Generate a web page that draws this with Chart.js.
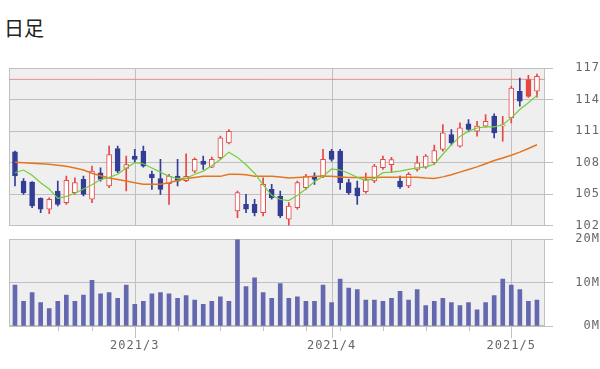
<!DOCTYPE html>
<html lang="ja">
<head>
<meta charset="utf-8">
<title>日足</title>
<script src="https://cdn.jsdelivr.net/npm/chart.js@4.4.1/dist/chart.umd.min.js"></script>
<style>
  html, body { margin: 0; padding: 0; background: #fff; }
  #wrap { position: relative; width: 600px; height: 369px; overflow: hidden; }
  h1 { position: absolute; left: 4px; top: 13px; margin: 0; font: normal 20px "Noto Sans CJK JP", sans-serif; color: #222; }
  #price { position: absolute; left: 0; top: 0; }
  #volume { position: absolute; left: 0; top: 225px; }
</style>
</head>
<body>
<div id="wrap">
  <h1>日足</h1>
  <canvas id="price" width="600" height="240"></canvas>
  <canvas id="volume" width="600" height="144"></canvas>
</div>
<script>
// daily candles, 2021/2/5 .. 2021/5/11
const open = [109.04, 106.25, 106.16, 104.61, 103.57, 105.31, 104.2, 105.15, 106.41, 104.52,
  107.04, 105.78, 109.35, 107.45, 108.62, 109.1, 106.89, 106.5, 106.0, 106.73,
  106.3, 107.2, 108.15, 107.58, 108.47, 109.89, 103.41, 104.04, 104.04, 103.25,
  105.46, 104.83, 102.62, 103.73, 105.62, 106.73, 106.73, 109.1, 109.1, 106.1,
  105.62, 105.25, 106.26, 107.52, 107.8, 106.26, 105.78, 107.36, 107.58, 108.0,
  109.26, 110.68, 109.57, 111.69, 110.99, 111.47, 112.42, 111.5, 112.26, 114.79,
  115.9, 114.79];
const high = [109.1, 106.5, 106.2, 104.67, 104.67, 106.25, 106.73, 106.57, 106.73, 107.68,
  107.52, 109.57, 109.57, 108.62, 109.26, 109.57, 107.2, 108.31, 106.89, 108.31,
  108.85, 108.47, 108.62, 108.53, 110.52, 111.15, 105.31, 104.99, 104.52, 106.57,
  105.94, 105.31, 104.2, 106.25, 106.89, 107.04, 109.26, 109.26, 109.26, 106.41,
  106.25, 107.0, 107.84, 108.63, 108.5, 106.73, 107.05, 108.63, 108.78, 109.67,
  111.63, 111.15, 111.79, 112.1, 111.94, 112.58, 112.64, 112.4, 115.26, 116.05,
  116.3, 116.43];
const low = [105.78, 104.99, 103.73, 103.25, 103.16, 103.88, 104.04, 104.99, 104.83, 104.2,
  106.25, 105.62, 107.04, 105.31, 107.99, 107.58, 105.46, 104.99, 104.04, 105.78,
  106.2, 107.04, 107.36, 107.52, 108.31, 109.79, 102.78, 103.25, 102.94, 102.94,
  104.52, 102.78, 102.05, 103.57, 105.46, 105.94, 106.57, 108.15, 105.46, 104.99,
  104.04, 105.1, 106.1, 107.36, 107.05, 105.56, 105.62, 107.2, 107.46, 107.84,
  109.1, 109.67, 109.48, 110.93, 110.52, 111.38, 110.36, 110.05, 111.79, 113.37,
  114.2, 114.22];
const close = [106.73, 105.15, 103.88, 103.57, 104.52, 104.04, 106.32, 106.1, 104.99, 107.2,
  106.41, 108.78, 107.2, 107.83, 108.31, 107.68, 106.57, 105.46, 106.73, 106.25,
  106.7, 108.31, 107.83, 108.31, 110.36, 110.99, 105.15, 103.57, 103.25, 105.94,
  104.67, 102.94, 103.88, 106.1, 106.73, 106.41, 108.31, 108.31, 106.1, 105.15,
  104.83, 106.4, 107.68, 108.31, 108.3, 105.69, 106.89, 107.99, 108.63, 109.16,
  110.84, 109.89, 111.31, 111.15, 111.47, 111.94, 110.84, 111.6, 115.1, 113.84,
  114.3, 116.21];

// moving averages as drawn on the chart
const maShort = [107.04, 107.3, 106.8, 106.1, 105.5, 104.6, 104.8, 105.1, 105.5, 105.9,
  106.4, 106.6, 106.9, 107.5, 108.0, 107.9, 107.5, 107.1, 106.7, 106.5,
  106.5, 106.9, 107.2, 107.7, 108.3, 109.0, 108.5, 107.8, 107.0, 105.9,
  104.9, 104.5, 104.4, 104.9, 105.5, 106.2, 106.7, 107.4, 107.3, 107.0,
  106.6, 106.3, 106.5, 107.05, 107.1, 107.2, 107.36, 107.5, 107.6, 107.85,
  108.8, 109.7, 110.5, 111.0, 111.3, 111.4, 111.4, 111.6, 112.26, 113.05,
  113.7, 114.4];
const maLong = [108.05, 108.0, 107.95, 107.9, 107.85, 107.75, 107.65, 107.5, 107.3, 107.0,
  106.75, 106.55, 106.4, 106.25, 106.1, 105.95, 105.95, 105.95, 106.1, 106.3,
  106.5, 106.6, 106.7, 106.7, 106.7, 106.9, 106.9, 106.85, 106.7, 106.7,
  106.7, 106.65, 106.55, 106.6, 106.65, 106.7, 106.7, 106.7, 106.65, 106.6,
  106.6, 106.6, 106.6, 106.62, 106.62, 106.62, 106.62, 106.62, 106.55, 106.5,
  106.65, 106.85, 107.1, 107.35, 107.6, 107.9, 108.2, 108.45, 108.7, 109.0,
  109.35, 109.7];
const highLine = 115.92;

// volume, millions of shares
const volume = [9.45, 5.7, 7.7, 5.4, 4.0, 5.7, 7.1, 5.7, 7.1, 10.5,
  7.4, 7.7, 6.4, 9.45, 5.0, 5.7, 7.4, 7.7, 7.4, 6.4,
  7.0, 6.0, 5.0, 5.7, 6.7, 5.7, 19.9, 9.1, 11.1, 7.7,
  6.4, 9.8, 6.4, 6.7, 5.7, 5.7, 9.45, 5.4, 10.8, 8.75,
  8.4, 6.0, 6.0, 5.7, 6.4, 8.0, 6.0, 8.4, 4.7, 5.7,
  6.4, 5.4, 4.7, 5.4, 3.7, 5.4, 7.0, 10.8, 9.45, 8.4,
  5.7, 6.0];

const monthIdx = [14, 37, 58];
const monthLabels = ["2021/3", "2021/4", "2021/5"];
const weekIdx = [5, 9, 19, 24, 29, 34, 38, 43, 48, 53];
const priceTicks = { min: 102, max: 117, step: 3 };
const volTicks = { min: 0, max: 20, step: 10 };
const redFilledDays = [60];

const X_MIN = -0.7, X_MAX = 61.94;
const RED = "#e64646", BLUE = "#333d96", GRID = "#c0c0c0";
const tickFont = { family: "DejaVu Sans Mono", size: 12 };
const tickColor = "#666";

// grey panel, its border, month lines and week marks, all under the data
function panelPlugin(monthTick, weekTick) {
  return {
    id: "panel",
    beforeDraw(chart) {
      const { ctx, chartArea: a } = chart;
      const sx = chart.scales.x;
      const line = (px, y1, y2) => {
        ctx.beginPath();
        ctx.moveTo(px, y1);
        ctx.lineTo(px, y2);
        ctx.stroke();
      };
      ctx.save();
      ctx.fillStyle = "#efefef";
      ctx.fillRect(a.left, a.top, a.right - a.left, a.bottom - a.top);
      ctx.strokeStyle = GRID;
      ctx.lineWidth = 1;
      ctx.strokeRect(Math.round(a.left) + 0.5, Math.round(a.top) + 0.5,
        Math.round(a.right - a.left) - 1, Math.round(a.bottom - a.top) - 1);
      monthIdx.forEach((i) => {
        line(Math.round(sx.getPixelForValue(i)) + 0.5, a.top, a.bottom + monthTick);
      });
      if (weekTick) {
        weekIdx.forEach((i) => {
          line(Math.round(sx.getPixelForValue(i)) + 0.5, a.bottom, a.bottom + weekTick);
        });
      }
      ctx.restore();
      ctx.letterSpacing = "1px";
    },
    afterDraw(chart) {
      chart.ctx.letterSpacing = "0px";
    }
  };
}

function xAxis(showLabels) {
  return {
    type: "linear",
    min: X_MIN,
    max: X_MAX,
    offset: false,
    afterBuildTicks: (s) => { s.ticks = monthIdx.map((v) => ({ value: v })); },
    afterFit: (s) => { s.height = showLabels ? 43 : 0; },
    grid: { display: false, drawTicks: showLabels, tickLength: 12 },
    border: { display: false },
    ticks: {
      display: showLabels,
      autoSkip: false,
      maxRotation: 0,
      padding: 1,
      font: tickFont,
      color: tickColor,
      callback: (v, i) => monthLabels[i]
    }
  };
}

function yAxis(t, fmt) {
  return {
    position: "right",
    min: t.min,
    max: t.max,
    afterFit: (s) => { s.width = 55; },
    grid: { color: GRID, tickLength: 8 },
    border: { display: false },
    ticks: { stepSize: t.step, padding: 7, crossAlign: "far", font: tickFont, color: tickColor, callback: fmt }
  };
}

// put a chart's plot area at the wanted page rows
function place(chart, top, bottom) {
  const canvas = chart.canvas;
  let a = chart.chartArea;
  const h = Math.round(canvas.height + (bottom - top) - (a.bottom - a.top));
  if (h !== canvas.height) {
    chart.resize(600, h);
    a = chart.chartArea;
  }
  canvas.style.top = (top - a.top) + "px";
}

const isUp = (i) => close[i] >= open[i];
const candleColor = (i) => (isUp(i) || redFilledDays.includes(i) ? RED : BLUE);
const days = close.map((c, i) => i);

const priceChart = new Chart(document.getElementById("price"), {
  type: "bar",
  data: {
    datasets: [
      {
        type: "line",
        data: [{ x: X_MIN, y: highLine }, { x: X_MAX, y: highLine }],
        borderColor: "#ec8c8c",
        borderWidth: 1,
        pointRadius: 0,
        order: 5
      },
      {
        type: "line",
        data: days.map((i) => ({ x: i, y: maLong[i] })),
        borderColor: "#e6761e",
        borderWidth: 1.5,
        pointRadius: 0,
        order: 1
      },
      {
        type: "line",
        data: days.map((i) => ({ x: i, y: maShort[i] })),
        borderColor: "#6fd03a",
        borderWidth: 1.2,
        pointRadius: 0,
        order: 0
      },
      {
        data: days.map((i) => ({ x: i, y: [low[i], high[i]] })),
        backgroundColor: (c) => candleColor(c.dataIndex),
        barThickness: 1,
        grouped: false,
        order: 4
      },
      {
        data: days.map((i) => ({ x: i, y: [open[i], close[i]] })),
        backgroundColor: (c) => {
          const i = c.dataIndex;
          if (redFilledDays.includes(i)) return RED;
          return isUp(i) ? "#ffffff" : BLUE;
        },
        borderColor: (c) => candleColor(c.dataIndex),
        borderWidth: 1,
        borderSkipped: false,
        barThickness: 5,
        grouped: false,
        order: 3
      }
    ]
  },
  options: {
    responsive: false,
    maintainAspectRatio: false,
    animation: false,
    layout: { padding: { top: 68, left: 9, right: 0, bottom: 8 } },
    plugins: { legend: { display: false }, tooltip: { enabled: false } },
    scales: {
      x: xAxis(false),
      y: yAxis(priceTicks, (v) => String(v))
    }
  },
  plugins: [panelPlugin(0, 0)]
});

const volumeChart = new Chart(document.getElementById("volume"), {
  type: "bar",
  data: {
    datasets: [
      {
        data: days.map((i) => ({ x: i, y: volume[i] })),
        backgroundColor: "#6469af",
        barThickness: 4
      }
    ]
  },
  options: {
    responsive: false,
    maintainAspectRatio: false,
    animation: false,
    layout: { padding: { top: 7, left: 9, right: 0, bottom: 0 } },
    plugins: { legend: { display: false }, tooltip: { enabled: false } },
    scales: {
      x: xAxis(true),
      y: yAxis(volTicks, (v) => v + "M")
    }
  },
  plugins: [panelPlugin(12, 5)]
});

place(priceChart, 68, 226);
place(volumeChart, 239, 326);
</script>
</body>
</html>
